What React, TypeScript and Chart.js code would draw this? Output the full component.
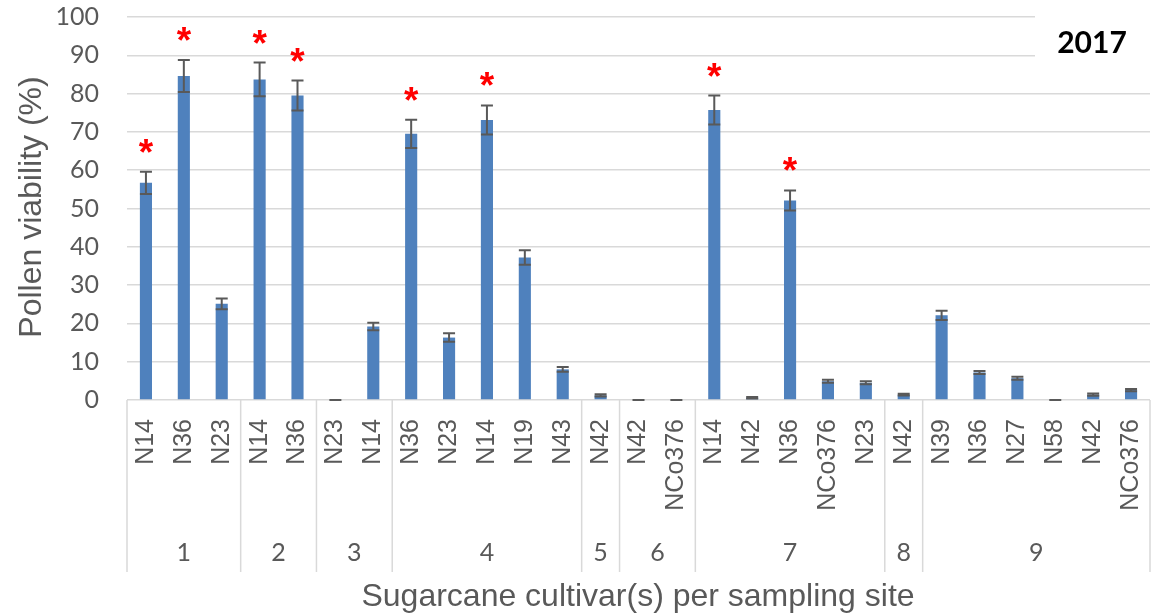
import React, { useEffect, useRef } from "react";
import { Chart, registerables } from "chart.js";

Chart.register(...registerables);

const cultivars = [
  "N14", "N36", "N23",
  "N14", "N36",
  "N23", "N14",
  "N36", "N23", "N14", "N19", "N43",
  "N42",
  "N42", "NCo376",
  "N14", "N42", "N36", "NCo376", "N23",
  "N42",
  "N39", "N36", "N27", "N58", "N42", "NCo376",
];

const siteLabels = ["1", "2", "3", "4", "5", "6", "7", "8", "9"];
const siteCounts = [3, 2, 2, 5, 1, 2, 5, 1, 6];

const viability = [
  56.7, 84.6, 25.1,
  83.7, 79.5,
  0, 19.2,
  69.5, 16.3, 73.1, 37.2, 8.0,
  1.2,
  0, 0,
  75.7, 0.6, 52.1, 4.9, 4.5,
  1.4,
  22.1, 7.2, 5.7, 0, 1.4, 2.6,
];

const errors = [
  2.9, 4.2, 1.4,
  4.4, 3.9,
  0, 1.0,
  3.7, 1.1, 3.8, 1.9, 0.6,
  0.3,
  0, 0,
  3.8, 0.2, 2.6, 0.4, 0.4,
  0.2,
  1.2, 0.4, 0.4, 0, 0.3, 0.3,
];

const significant = [
  true, true, false,
  true, true,
  false, false,
  true, false, true, false, false,
  false,
  false, false,
  true, false, true, false, false,
  false,
  false, false, false, false, false, false,
];

const yTicks = [0, 10, 20, 30, 40, 50, 60, 70, 80, 90, 100];

const yTitle = "Pollen viability (%)";
const xTitle = "Sugarcane cultivar(s) per sampling site";
const yearLabel = "2017";

const ARIAL = "'Liberation Sans', Arial, sans-serif";
const CALIBRI = "Lato, 'Open Sans', sans-serif";
const GREY = "#595959";
const GRID = "#d9d9d9";

const overlayPlugin = {
  id: "overlay",
  afterDatasetsDraw(chart: any) {
    const ctx = chart.ctx;
    const xs = chart.scales.x;
    const ys = chart.scales.y;
    ctx.save();
    // error bars
    ctx.strokeStyle = GREY;
    ctx.lineWidth = 2;
    for (let i = 0; i < viability.length; i++) {
      const x = xs.getPixelForValue(i);
      const top = ys.getPixelForValue(viability[i] + errors[i]);
      const bot = ys.getPixelForValue(Math.max(0, viability[i] - errors[i]));
      ctx.beginPath();
      ctx.moveTo(x, top);
      ctx.lineTo(x, bot);
      ctx.moveTo(x - 6, top);
      ctx.lineTo(x + 6, top);
      ctx.moveTo(x - 6, bot);
      ctx.lineTo(x + 6, bot);
      ctx.stroke();
    }
    // asterisks
    ctx.fillStyle = "#ff0000";
    ctx.font = `bold 37px ${ARIAL}`;
    ctx.textAlign = "center";
    ctx.textBaseline = "alphabetic";
    const m = ctx.measureText("*");
    const asc = m.actualBoundingBoxAscent || 26;
    const desc = m.actualBoundingBoxDescent || -12;
    for (let i = 0; i < viability.length; i++) {
      if (!significant[i]) continue;
      const x = xs.getPixelForValue(i);
      const top = ys.getPixelForValue(viability[i] + errors[i]);
      const cy = top - 26;
      ctx.fillText("*", x, cy + (asc - desc) / 2);
    }
    ctx.restore();
  },
  afterDraw(chart: any) {
    const ctx = chart.ctx;
    const xs = chart.scales.x;
    const area = chart.chartArea;
    ctx.save();
    // group separators
    ctx.strokeStyle = GRID;
    ctx.lineWidth = 1.5;
    let start = 0;
    const bounds: number[] = [0];
    siteCounts.forEach((c) => {
      start += c;
      bounds.push(start);
    });
    bounds.forEach((b) => {
      const x = xs.getPixelForValue(b - 0.5);
      ctx.beginPath();
      ctx.moveTo(x, area.bottom);
      ctx.lineTo(x, 572);
      ctx.stroke();
    });
    // group labels
    ctx.fillStyle = GREY;
    ctx.font = `25px ${CALIBRI}`;
    ctx.textAlign = "center";
    ctx.textBaseline = "middle";
    for (let g = 0; g < siteLabels.length; g++) {
      const x0 = xs.getPixelForValue(bounds[g] - 0.5);
      const x1 = xs.getPixelForValue(bounds[g + 1] - 0.5);
      ctx.fillText(siteLabels[g], (x0 + x1) / 2, 553);
    }
    // axis titles
    ctx.font = `32px ${ARIAL}`;
    ctx.fillText(xTitle, 638, 597);
    ctx.save();
    ctx.translate(32, 207);
    ctx.rotate(-Math.PI / 2);
    ctx.fillText(yTitle, 0, 0);
    ctx.restore();
    // year label box
    ctx.fillStyle = "#ffffff";
    ctx.fillRect(1035, 6, 120, 64);
    ctx.fillStyle = "#000000";
    ctx.font = `bold 30px ${CALIBRI}`;
    ctx.fillText(yearLabel, 1092, 43);
    ctx.restore();
  },
};

export default function App() {
  const ref = useRef<HTMLCanvasElement | null>(null);
  useEffect(() => {
    document.body.style.margin = "0";
    if (!ref.current) return;
    const chart = new Chart(ref.current, {
      type: "bar",
      data: {
        labels: cultivars,
        datasets: [
          {
            data: viability,
            backgroundColor: "#4f81bd",
            borderWidth: 0,
            barPercentage: 0.32,
            categoryPercentage: 1,
          },
        ],
      },
      options: {
        responsive: false,
        animation: false,
        layout: { padding: { top: 17, right: 5, left: 0, bottom: 0 } },
        plugins: {
          legend: { display: false },
          tooltip: { enabled: false },
          title: { display: false },
        },
        scales: {
          x: {
            offset: true,
            grid: { display: false, drawTicks: false },
            border: { display: false },
            ticks: {
              autoSkip: false,
              minRotation: 90,
              maxRotation: 90,
              padding: 19,
              color: GREY,
              font: { family: ARIAL, size: 25 },
            },
            afterFit(scale: any) {
              scale.height = 214;
              scale.paddingLeft = 0;
              scale.paddingRight = 0;
              scale.paddingTop = 0;
              scale.paddingBottom = 0;
            },
          },
          y: {
            min: 0,
            max: 100,
            afterBuildTicks(scale: any) {
              scale.ticks = yTicks.map((v) => ({ value: v }));
            },
            grid: { color: GRID, lineWidth: 1.5, drawTicks: false },
            border: { display: false },
            ticks: {
              padding: 28,
              color: GREY,
              font: { family: CALIBRI, size: 25 },
            },
            afterFit(scale: any) {
              scale.width = 127;
              scale.paddingLeft = 0;
              scale.paddingRight = 0;
              scale.paddingTop = 0;
              scale.paddingBottom = 0;
            },
          },
        },
      },
      plugins: [overlayPlugin],
    });
    return () => chart.destroy();
  }, []);
  return (
    <canvas
      ref={ref}
      width={1155}
      height={614}
      style={{ display: "block", width: 1155, height: 614 }}
    />
  );
}
